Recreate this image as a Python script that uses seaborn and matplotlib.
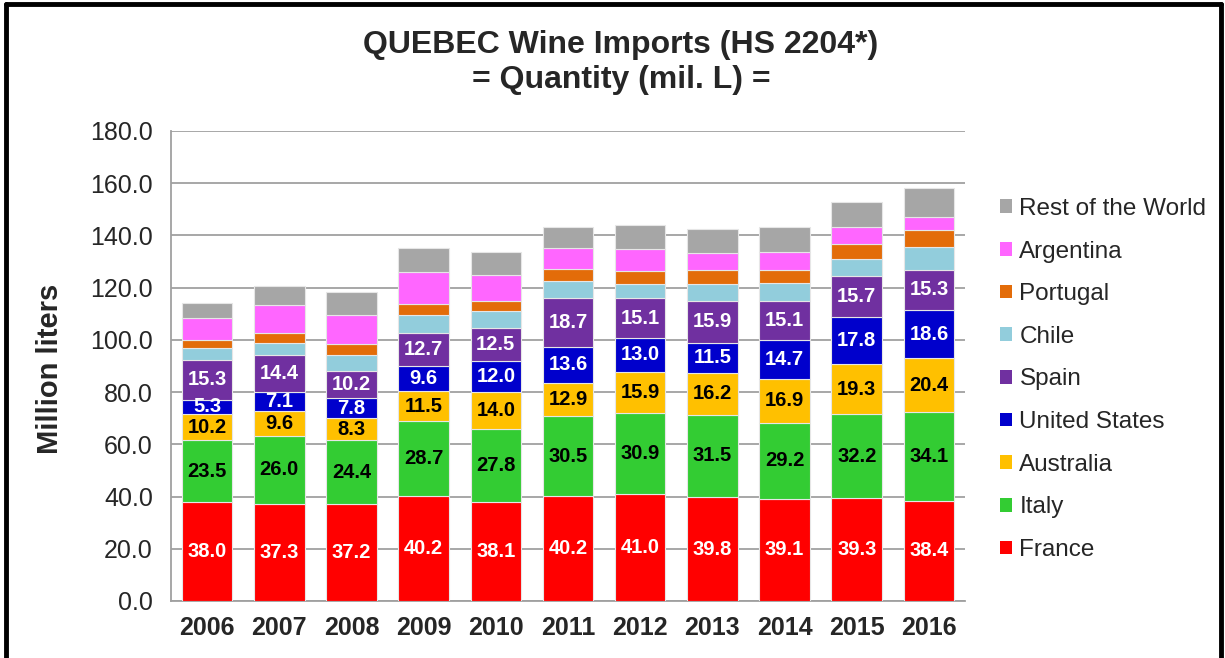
import numpy as np
import matplotlib
matplotlib.use("Agg")
import matplotlib.pyplot as plt
from matplotlib.patches import Patch
from matplotlib.lines import Line2D
import seaborn as sns

years = ["2006", "2007", "2008", "2009", "2010", "2011", "2012", "2013", "2014", "2015", "2016"]
france = [38.0, 37.3, 37.2, 40.2, 38.1, 40.2, 41.0, 39.8, 39.1, 39.3, 38.4]
italy = [23.5, 26.0, 24.4, 28.7, 27.8, 30.5, 30.9, 31.5, 29.2, 32.2, 34.1]
australia = [10.2, 9.6, 8.3, 11.5, 14.0, 12.9, 15.9, 16.2, 16.9, 19.3, 20.4]
united_states = [5.3, 7.1, 7.8, 9.6, 12.0, 13.6, 13.0, 11.5, 14.7, 17.8, 18.6]
spain = [15.3, 14.4, 10.2, 12.7, 12.5, 18.7, 15.1, 15.9, 15.1, 15.7, 15.3]
chile = [4.6, 4.4, 6.4, 7.0, 6.8, 6.5, 5.6, 6.6, 6.9, 6.6, 8.9]
portugal = [2.9, 3.9, 4.1, 3.9, 3.8, 4.9, 4.9, 5.3, 5.0, 5.8, 6.4]
argentina = [8.5, 10.8, 11.3, 12.3, 9.9, 8.0, 8.3, 6.4, 6.9, 6.4, 4.8]
rest_of_world = [5.7, 7.3, 8.8, 9.3, 8.9, 7.8, 9.3, 9.3, 9.6, 9.7, 11.4]

series_names = ["France", "Italy", "Australia", "United States", "Spain",
                "Chile", "Portugal", "Argentina", "Rest of the World"]
series_values = [france, italy, australia, united_states, spain,
                 chile, portugal, argentina, rest_of_world]
series_colors = ["#FF0000", "#33CC33", "#FFC000", "#0000CC", "#7030A0",
                 "#92CDDC", "#E36C09", "#FF66FF", "#A6A6A6"]
label_colors = ["white", "black", "black", "white", "white", None, None, None, None]

title_line1 = "QUEBEC Wine Imports (HS 2204*)"
title_line2 = "= Quantity (mil. L) ="
y_label = "Million liters"

sns.set_style("white")
plt.rcParams["font.family"] = ["Liberation Sans", "DejaVu Sans"]

fig = plt.figure(figsize=(12.25, 6.58), dpi=100)
ax = fig.add_axes([171 / 1225, 57 / 658, (965 - 171) / 1225, (601 - 131) / 658])

bottom = np.zeros(len(years))
for name, vals, col, lc in zip(series_names, series_values, series_colors, label_colors):
    vals = np.array(vals, dtype=float)
    sns.barplot(x=years, y=vals, bottom=bottom, color=col, saturation=1, width=0.7,
                edgecolor="#E6E6E6", linewidth=0.8, ax=ax, zorder=3)
    cont = ax.containers[-1]
    if lc is not None:
        ax.bar_label(cont, labels=[f"{v:.1f}" for v in vals], label_type="center",
                     color=lc, fontsize=14.5, fontweight="bold", zorder=4)
    bottom = bottom + vals

ax.set_ylim(0, 180)
ax.set_yticks(np.arange(0, 181, 20))
ax.set_yticklabels([f"{v:.1f}" for v in np.arange(0, 181, 20)], fontsize=18)
ax.set_xlim(-0.5, len(years) - 0.5)
ax.set_xticks(range(len(years)))
ax.set_xticklabels(years, fontsize=18, fontweight="bold")
ax.set_xticks(np.arange(-0.5, len(years), 1), minor=True)
ax.tick_params(axis="x", which="major", length=0, pad=11)
ax.tick_params(axis="x", which="minor", length=7, width=1.2, color="#A0A0A0", direction="out")
ax.tick_params(axis="y", length=7, width=1.2, color="#A0A0A0", direction="out", pad=6)
ax.set_xlabel("")
ax.set_ylabel("")
ax.grid(axis="y", color="#A0A0A0", linewidth=1.3, zorder=0)
ax.set_axisbelow(True)
for s in ["top", "right"]:
    ax.spines[s].set_visible(False)
for s in ["left", "bottom"]:
    ax.spines[s].set_color("#A0A0A0")
    ax.spines[s].set_linewidth(1.3)

fig.text(621 / 1225, 1 - 45 / 658, title_line1, ha="center", va="center",
         fontsize=23, fontweight="bold")
fig.text(621 / 1225, 1 - 80 / 658, title_line2, ha="center", va="center",
         fontsize=23, fontweight="bold")
fig.text(50 / 1225, 1 - 369 / 658, y_label, rotation=90, ha="center", va="center",
         fontsize=21, fontweight="bold")

handles = [Patch(facecolor=c, edgecolor="none") for c in series_colors][::-1]
labels = series_names[::-1]
fig.legend(handles, labels, loc="center left", bbox_to_anchor=(1000 / 1225, 1 - 379.5 / 658),
           bbox_transform=fig.transFigure, frameon=False, fontsize=17.5,
           handlelength=0.5, handleheight=0.5, handletextpad=0.3,
           labelspacing=0.85, borderpad=0, borderaxespad=0)

# frame border around the picture
lw = 3.5
fig.add_artist(Line2D([6 / 1225, 6 / 1225], [0, 1 - 4 / 658], transform=fig.transFigure, color="black", lw=lw))
fig.add_artist(Line2D([6 / 1225, 1221 / 1225], [1 - 4 / 658, 1 - 4 / 658], transform=fig.transFigure, color="black", lw=lw))
fig.add_artist(Line2D([1221 / 1225, 1221 / 1225], [0, 1 - 4 / 658], transform=fig.transFigure, color="black", lw=lw))

fig.savefig("out.png", dpi=100)
